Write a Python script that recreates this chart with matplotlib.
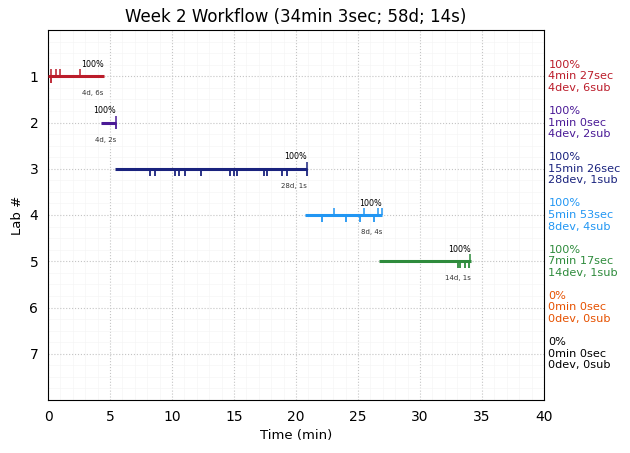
#-*-coding=utf-8-*-
import matplotlib
matplotlib.use('Agg')
import matplotlib.pyplot as plt
from matplotlib.ticker import MultipleLocator

labs = [1, 2, 3, 4, 5, 6, 7]
colors = ['#bb1c2a', '#4a1a96', '#1a237e', '#2196f3', '#2e8b3c', '#e65100', '#000000']
starts = [0.0, 4.3, 5.4, 20.7, 26.7]
ends = [4.5, 5.5, 20.9, 26.95, 34.1]
# commits go up, submissions go down
up_marks = [
    [0.25, 0.65, 1.0, 2.6],
    [5.45],
    [20.85],
    [23.1, 25.5, 26.65, 26.9],
    [34.0],
]
down_marks = [
    [0.25],
    [5.45],
    [8.2, 8.6, 10.25, 10.55, 11.05, 12.3, 14.7, 15.0, 15.22, 17.45, 17.7, 18.9, 19.3, 20.85],
    [22.1, 24.0, 25.2, 26.3],
    [33.05, 33.2, 33.6, 33.95],
]
top_labels = ['100%', '100%', '100%', '100%', '100%']
bottom_labels = ['4d, 6s', '4d, 2s', '28d, 1s', '8d, 4s', '14d, 1s']
side_labels = [
    '100%\n4min 27sec\n4dev, 6sub',
    '100%\n1min 0sec\n4dev, 2sub',
    '100%\n15min 26sec\n28dev, 1sub',
    '100%\n5min 53sec\n8dev, 4sub',
    '100%\n7min 17sec\n14dev, 1sub',
    '0%\n0min 0sec\n0dev, 0sub',
    '0%\n0min 0sec\n0dev, 0sub',
]

fig = plt.figure(figsize=(6.3, 4.53), dpi=100)
ax = fig.add_axes([48/630., 1-400/453., 496/630., 370/453.])

for i in range(len(starts)):
    y = labs[i]
    ax.plot([starts[i], ends[i]], [y, y], color=colors[i], lw=2.2, zorder=3, solid_capstyle='butt')
    ax.vlines(up_marks[i], y-0.15, y, color=colors[i], lw=1.1, zorder=3)
    ax.vlines(down_marks[i], y, y+0.15, color=colors[i], lw=1.3, zorder=3)
    ax.text(ends[i], y-0.16, top_labels[i], ha='right', va='bottom', fontsize=5.8)
    ax.text(ends[i], y+0.37, bottom_labels[i], ha='right', va='center', fontsize=5, color='#333333')

for i in range(len(labs)):
    ax.text(40.35, labs[i], side_labels[i], color=colors[i], fontsize=8.1, va='center', ha='left', linespacing=1.2)

ax.set_xlim(0, 40)
ax.set_ylim(8, 0)
ax.set_yticks(labs)
ax.xaxis.set_major_locator(MultipleLocator(5))
ax.xaxis.set_minor_locator(MultipleLocator(1))
ax.yaxis.set_minor_locator(MultipleLocator(0.25))
ax.grid(True, which='major', color='#c4c4c4', linestyle=':', lw=0.8)
ax.grid(True, which='minor', color='#f5f5f5', linestyle='-', lw=0.5)
ax.set_axisbelow(True)
ax.tick_params(which='both', length=0)
ax.tick_params(axis='x', pad=7)
ax.tick_params(axis='y', pad=7)
ax.set_xlabel('Time (min)', fontsize=9.5, labelpad=4)
ax.set_ylabel('Lab #', fontsize=9.5)
ax.set_title('Week 2 Workflow (34min 3sec; 58d; 14s)', fontsize=12)
fig.savefig('out.png', dpi=100)
